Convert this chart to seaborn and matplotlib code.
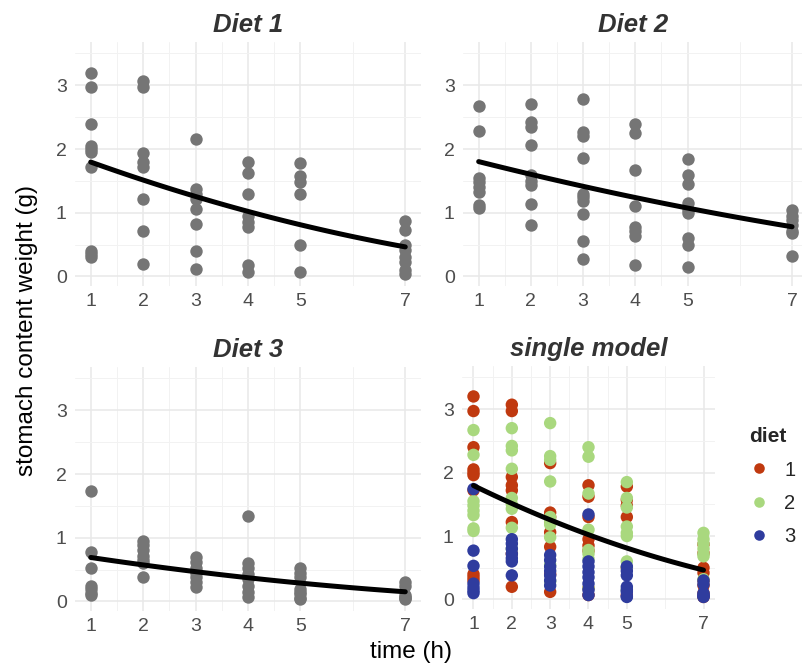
import numpy as np
import pandas as pd
import matplotlib
matplotlib.use("Agg")
import matplotlib.pyplot as plt
import seaborn as sns

# values, grouped by diet and sampling time (h)
times = [1, 2, 3, 4, 5, 7]

diet1 = {
    1: [3.2, 2.97, 2.4, 2.05, 2.0, 1.96, 1.72, 0.4, 0.35, 0.3],
    2: [3.07, 2.97, 1.93, 1.8, 1.72, 1.22, 0.72, 0.2],
    3: [2.15, 1.37, 1.3, 1.22, 1.06, 0.83, 0.4, 0.12],
    4: [1.8, 1.62, 1.3, 0.95, 0.85, 0.77, 0.18, 0.07],
    5: [1.78, 1.57, 1.48, 1.3, 0.5, 0.07],
    7: [0.87, 0.73, 0.5, 0.42, 0.3, 0.22, 0.1, 0.04],
}
diet2 = {
    1: [2.67, 2.28, 1.55, 1.48, 1.4, 1.33, 1.12, 1.08],
    2: [2.7, 2.42, 2.35, 2.06, 1.6, 1.5, 1.43, 1.13, 0.8],
    3: [2.78, 2.26, 2.2, 1.86, 1.3, 1.24, 1.18, 0.98, 0.55, 0.28],
    4: [2.4, 2.25, 1.67, 1.1, 0.78, 0.72, 0.64, 0.18],
    5: [1.85, 1.6, 1.45, 1.15, 1.05, 1.0, 0.6, 0.5, 0.15],
    7: [1.05, 0.95, 0.88, 0.8, 0.72, 0.68, 0.32],
}
diet3 = {
    1: [1.74, 0.77, 0.53, 0.25, 0.19, 0.14, 0.1],
    2: [0.95, 0.88, 0.8, 0.72, 0.65, 0.6, 0.38],
    3: [0.7, 0.62, 0.52, 0.45, 0.38, 0.3, 0.22],
    4: [1.34, 0.6, 0.52, 0.43, 0.35, 0.25, 0.15, 0.07],
    5: [0.52, 0.45, 0.38, 0.2, 0.15, 0.12, 0.05, 0.04],
    7: [0.3, 0.24, 0.1, 0.07, 0.05, 0.04],
}

diet_colors = {"1": "#C0390F", "2": "#A9D87E", "3": "#2F3C9E"}

rows = []
for name, d in [("1", diet1), ("2", diet2), ("3", diet3)]:
    for t in times:
        for v in d[t]:
            rows.append({"diet": name, "time": t, "weight": v})
df = pd.DataFrame(rows)


def sqrt_fit(sub):
    # quasi-Poisson GLM with square-root link: sqrt(W) = a + b t (IRLS)
    t = sub["time"].to_numpy(float)
    y = sub["weight"].to_numpy(float)
    X = np.column_stack([np.ones_like(t), t])
    beta = np.linalg.lstsq(X, np.sqrt(y), rcond=None)[0]
    for _ in range(100):
        eta = X @ beta
        z = eta + (y - eta ** 2) / (2 * eta)
        beta = np.linalg.lstsq(X, z, rcond=None)[0]
    grid = np.linspace(1, 7, 100)
    return pd.DataFrame({"time": grid, "weight": (beta[0] + beta[1] * grid) ** 2})


fits = {k: sqrt_fit(df[df.diet == k]) for k in ["1", "2", "3"]}

sns.set_theme(style="whitegrid")
plt.rcParams["font.family"] = ["Liberation Sans", "DejaVu Sans"]

W, H = 803, 671
fig = plt.figure(figsize=(W / 100, H / 100), dpi=100)


def px_axes(x0, y0, x1, y1):
    return fig.add_axes([x0 / W, 1 - y1 / H, (x1 - x0) / W, (y1 - y0) / H])


panels = [
    (px_axes(75, 42, 421, 286), "Diet 1", "1", (0.7, 7.3)),
    (px_axes(463, 42, 803, 286), "Diet 2", "2", (0.7, 7.21)),
    (px_axes(75, 367, 421, 611), "Diet 3", "3", (0.7, 7.3)),
    (px_axes(462, 366, 715, 609), "single model", None, (0.7, 7.3)),
]

for ax, title, key, xlim in panels:
    if key is not None:
        sns.scatterplot(data=df[df.diet == key], x="time", y="weight", ax=ax,
                        color="#757575", s=80, linewidth=0, legend=False, zorder=3)
        fit = fits[key]
    else:
        sns.scatterplot(data=df, x="time", y="weight", hue="diet", ax=ax,
                        palette=diet_colors, s=80, linewidth=0, zorder=3)
        fit = fits["1"]
    sns.lineplot(data=fit, x="time", y="weight", ax=ax, color="black",
                 linewidth=3.6, zorder=4)

    ax.set_xlim(*xlim)
    ax.set_ylim(-0.15, 3.68)
    ax.set_xticks(times)
    ax.set_xticks([1.5, 2.5, 3.5, 4.5, 6], minor=True)
    ax.set_yticks([0, 1, 2, 3])
    ax.set_yticks([0.5, 1.5, 2.5, 3.5], minor=True)
    ax.grid(which="major", color="#E8E8E8", linewidth=1.1)
    ax.grid(which="minor", color="#F2F2F2", linewidth=0.7)
    ax.set_facecolor("white")
    for sp in ax.spines.values():
        sp.set_visible(False)
    ax.tick_params(which="both", length=0, labelsize=14, labelcolor="#4D4D4D")
    ax.tick_params(axis="y", pad=6)
    ax.tick_params(axis="x", pad=5)
    ax.set_xlabel("")
    ax.set_ylabel("")
    ax.set_title(title, fontsize=18.5, fontweight="bold", fontstyle="italic",
                 color="#333333", pad=7)

# legend for the combined panel
ax4 = panels[3][0]
handles, labels = ax4.get_legend_handles_labels()
ax4.legend(handles=handles, labels=labels, title="diet", loc="upper left",
           bbox_to_anchor=(749 / W, 1 - 427 / H), bbox_transform=fig.transFigure,
           frameon=False, fontsize=14.5, title_fontproperties={"weight": "bold", "size": 15},
           alignment="left", labelspacing=0.72, handlelength=1.0, handletextpad=0.75,
           markerscale=0.85, borderaxespad=0, borderpad=0)

fig.text(27 / W, 1 - 331 / H, "stomach content weight (g)", rotation=90,
         ha="center", va="center", fontsize=17.5, color="black")
fig.text(411 / W, 1 - 652 / H, "time (h)", ha="center", va="center",
         fontsize=17.5, color="black")

fig.savefig("out.png", dpi=100, facecolor="white")
